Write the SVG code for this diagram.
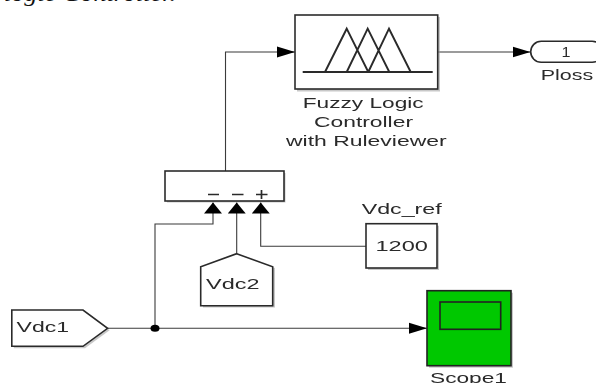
<svg xmlns="http://www.w3.org/2000/svg" width="596" height="383" viewBox="0 0 596 383">
<style>
.b{fill:#fff;stroke:#2a2a2a;stroke-width:1.6}
.s{fill:#9a9a9a;opacity:.55}
.w{fill:none;stroke:#3a3a3a;stroke-width:1.1}
.t{font-family:"Liberation Sans",Arial,sans-serif;font-size:14.5px;fill:#2b2b2b}
.i{fill:none;stroke:#2a2a2a;stroke-width:1.9;stroke-linejoin:miter}
</style>
<defs>
<marker id="h" viewBox="0 0 18 12" refX="18" refY="6" markerWidth="18" markerHeight="12" markerUnits="userSpaceOnUse" orient="auto"><path d="M0 0.500L18 6L0 11.500Z" fill="#000"/></marker>
<marker id="v" viewBox="0 0 12 18" refX="11" refY="9" markerWidth="12" markerHeight="18" markerUnits="userSpaceOnUse" orient="auto"><path d="M0 0L11 9L0 18Z" fill="#000"/></marker>
<filter id="soft" x="-2%" y="-2%" width="104%" height="104%"><feGaussianBlur stdDeviation="0.35"/></filter>
</defs>
<rect width="596" height="383" fill="#fff"/>
<text id="caption" x="4" y="1" font-family="Liberation Serif,serif" font-style="italic" font-size="24" fill="#111" textLength="172" lengthAdjust="spacingAndGlyphs">logic Controller.</text>
<g filter="url(#soft)">
<g id="connectors">
<path class="w" d="M225.500 171V52H295" marker-end="url(#h)"/>
<path class="w" d="M437.700 52H530.500" marker-end="url(#h)"/>
<path class="w" stroke-width="1.300" d="M155 328.300V224H213V202.500" marker-end="url(#v)"/>
<path class="w" d="M236.700 254V202.500" marker-end="url(#v)"/>
<path class="w" d="M366 246.300H260.700V202.500" marker-end="url(#v)"/>
<path class="w" d="M107.600 328.300H427" marker-end="url(#h)"/>
<ellipse cx="155" cy="328.300" rx="4.500" ry="3.500" fill="#000"/>
</g>
<g id="fuzzy">
<rect class="s" x="297" y="17" width="143" height="74.500"/>
<rect class="b" x="295" y="15" width="142.700" height="74"/>
<path class="i" stroke-width="1.500" d="M302.700 72H432.700"/>
<path class="i" d="M325 72L346.700 28.700L368.300 72M346.700 72L367.700 28.700L389.300 72M368.300 72L389 28.700L410.700 72"/>
<text class="t" x="302.700" y="107.700" textLength="121" lengthAdjust="spacingAndGlyphs">Fuzzy Logic</text>
<text class="t" x="314" y="127" textLength="99" lengthAdjust="spacingAndGlyphs">Controller</text>
<text class="t" x="286" y="146" textLength="160.700" lengthAdjust="spacingAndGlyphs">with Ruleviewer</text>
</g>
<g id="ploss">
<rect x="530.700" y="41.300" width="72" height="21" rx="10.500" fill="#fff" stroke="#2a2a2a" stroke-width="1.600"/>
<text class="t" x="561.500" y="56.500" textLength="9" lengthAdjust="spacingAndGlyphs">1</text>
<text class="t" x="540.700" y="80" textLength="52.500" lengthAdjust="spacingAndGlyphs">Ploss</text>
</g>
<g id="sum">
<rect class="s" x="167" y="173" width="118.500" height="29.500"/>
<rect class="b" x="165" y="171" width="119" height="30"/>
<path d="M208 194.500H219M232 194.500H243.500M256 194.500H267.500M261.500 190V199" fill="none" stroke="#2a2a2a" stroke-width="1.700"/>
</g>
<g id="vdc2">
<path class="s" d="M239 255.500L275 268V307.500H203V268Z"/>
<path class="b" d="M236.700 253.700L272.700 266.700V305.700H200.700V266.700Z"/>
<text class="t" x="206" y="289" textLength="53.500" lengthAdjust="spacingAndGlyphs">Vdc2</text>
</g>
<g id="const">
<rect class="s" x="368" y="225.700" width="71" height="44.300"/>
<rect class="b" x="366" y="223.700" width="71" height="44.300"/>
<text class="t" x="375.500" y="251" textLength="52.500" lengthAdjust="spacingAndGlyphs">1200</text>
<text class="t" x="361.700" y="214" textLength="80" lengthAdjust="spacingAndGlyphs">Vdc_ref</text>
</g>
<g id="vdc1">
<path class="s" d="M13.800 312H85L109.600 330.300L85 348.300H13.800Z"/>
<path class="b" d="M11.800 310H83L107.600 328.300L83 346.300H11.800Z"/>
<text class="t" x="16.600" y="331.700" textLength="52.500" lengthAdjust="spacingAndGlyphs">Vdc1</text>
</g>
<g id="scope">
<rect class="s" x="429" y="292.700" width="84" height="75"/>
<rect x="427" y="290.700" width="84" height="75" fill="#00c800" stroke="#222" stroke-width="1.600"/>
<rect x="440" y="302" width="60.700" height="27.300" fill="#00c800" stroke="#222" stroke-width="1.600"/>
<text class="t" x="430" y="382.500" textLength="77" lengthAdjust="spacingAndGlyphs">Scope1</text>
</g>
</g>
</svg>
